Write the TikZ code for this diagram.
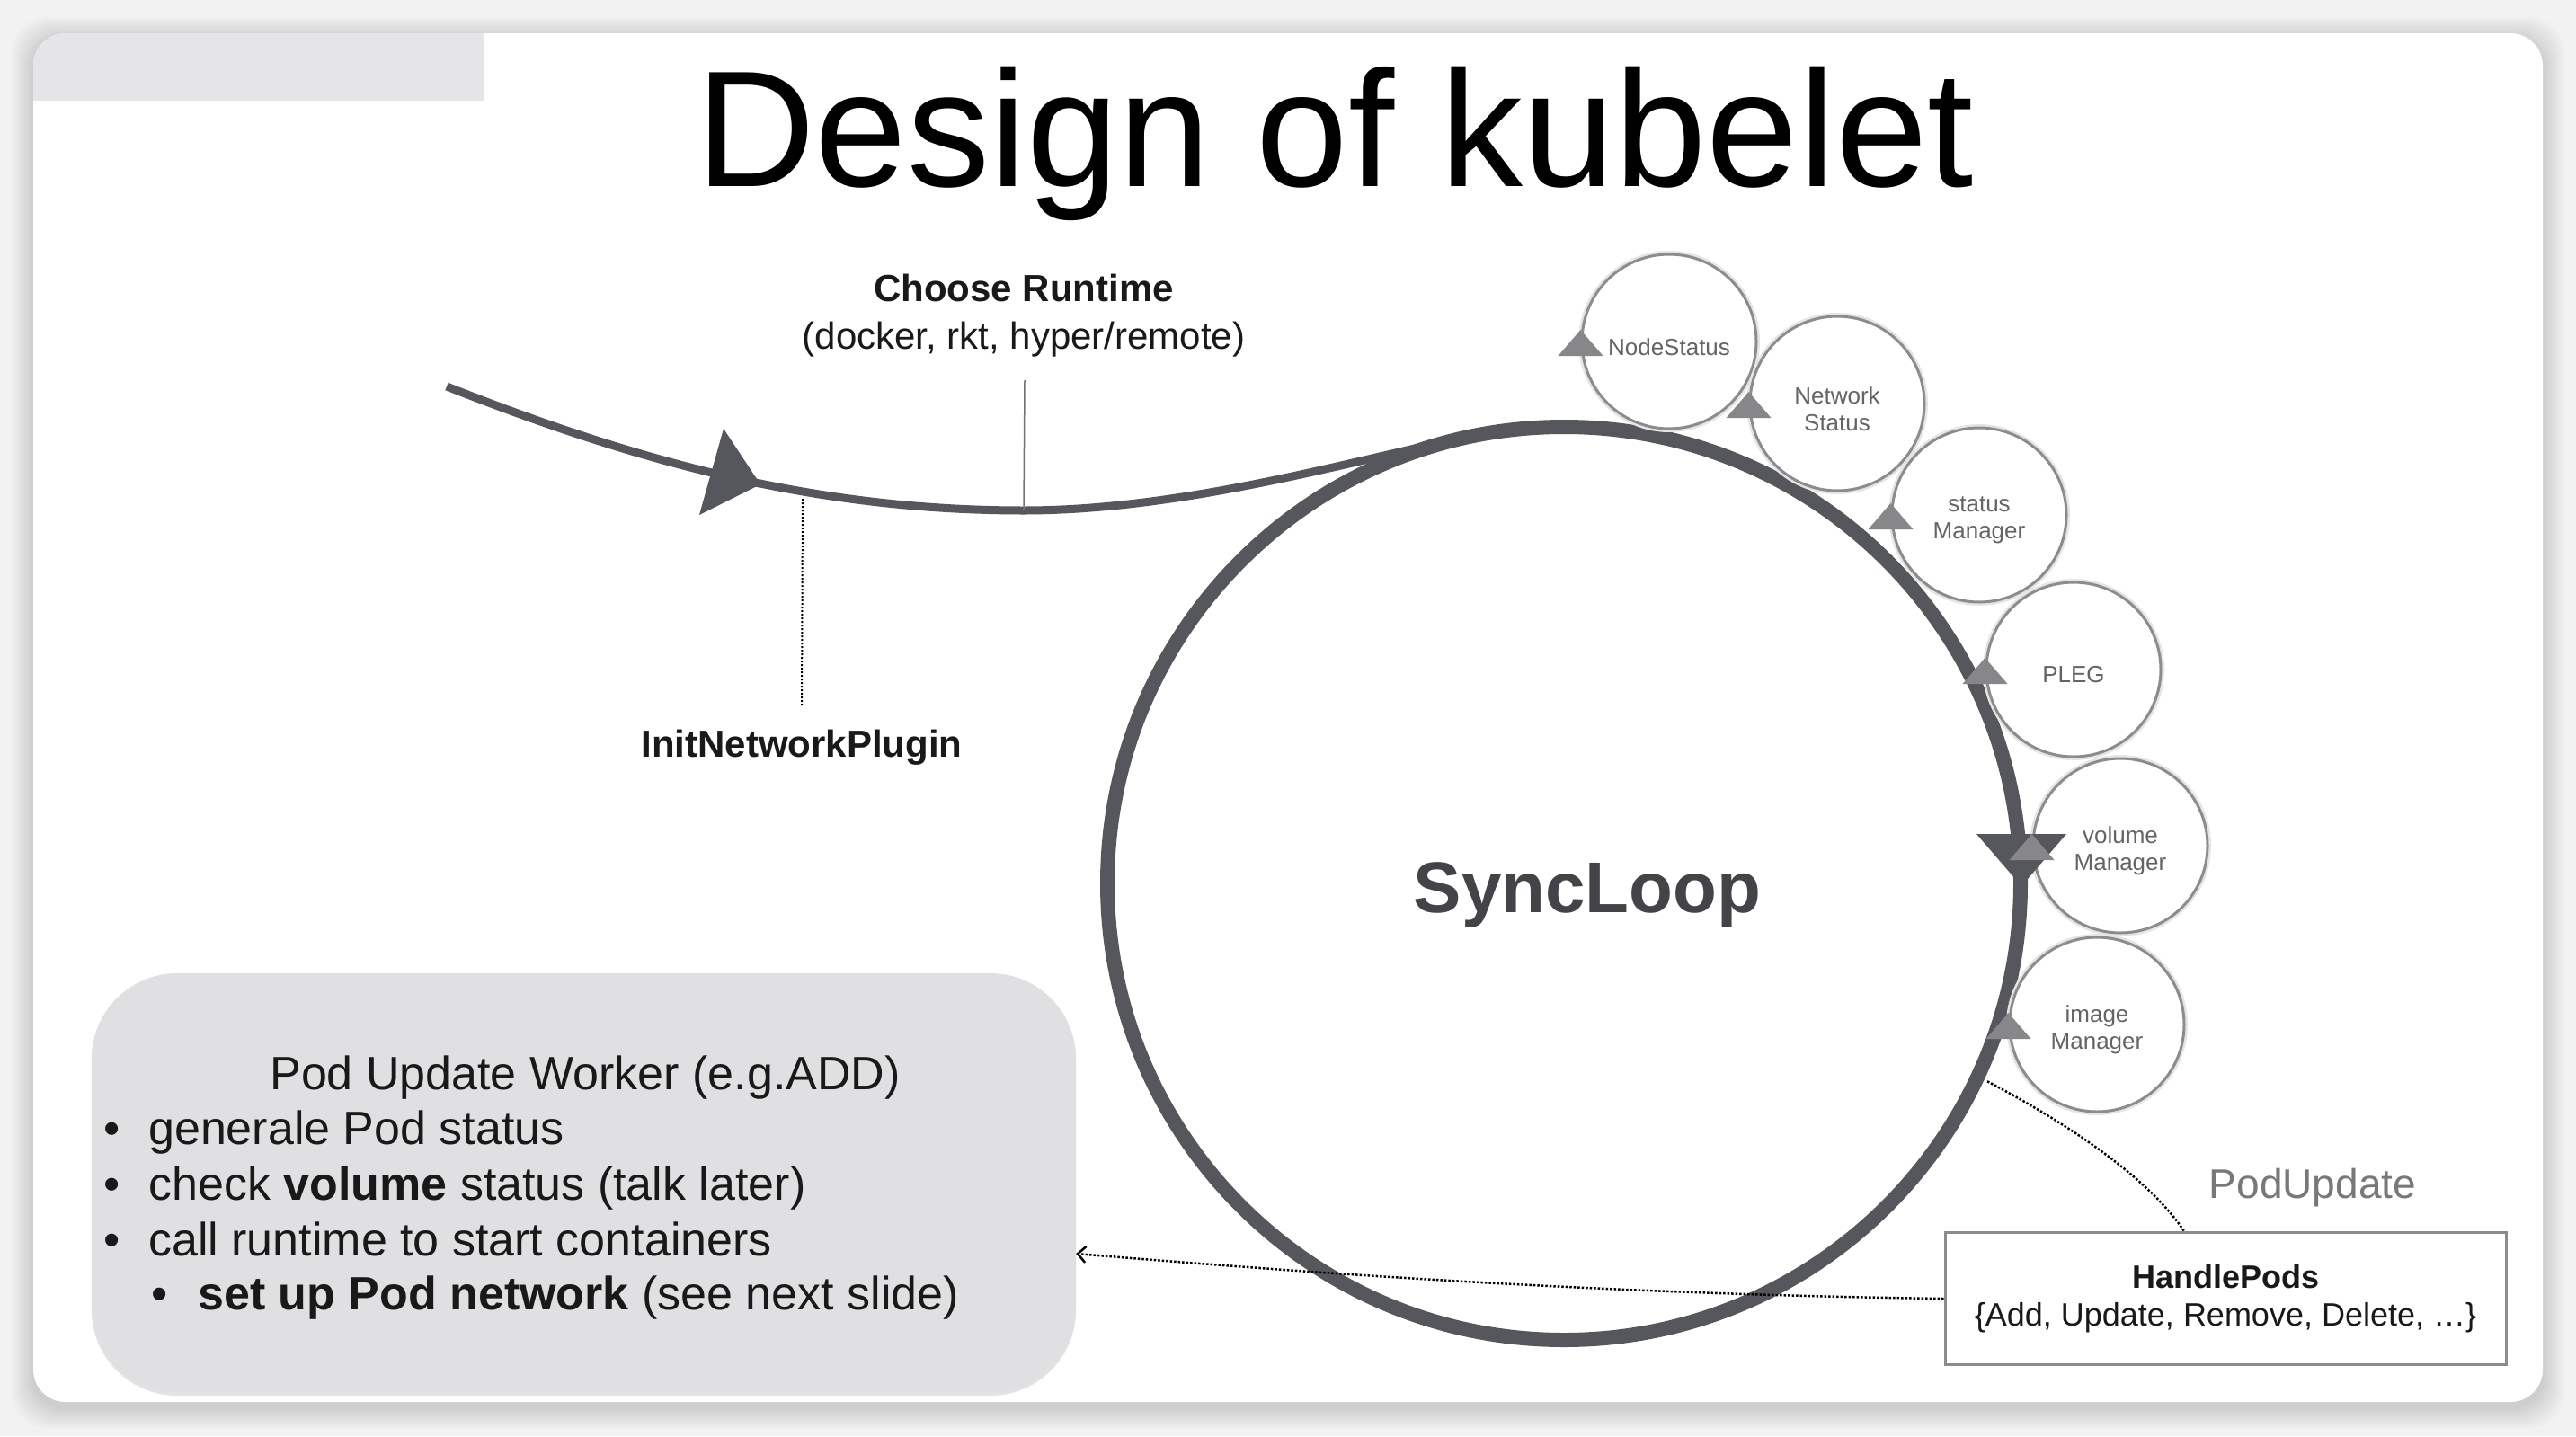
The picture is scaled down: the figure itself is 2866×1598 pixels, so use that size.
\documentclass[tikz,border=0pt]{standalone}
\usepackage{fontspec}
\setmainfont{Liberation Sans}
\usetikzlibrary{calc,shadows,arrows.meta}
\definecolor{ring}{RGB}{86,87,92}
\definecolor{mgrline}{RGB}{140,140,142}
\definecolor{trig}{RGB}{135,135,138}
\definecolor{boxfill}{RGB}{224,224,226}
\definecolor{pagebg}{RGB}{242,242,242}
\definecolor{tabgray}{RGB}{229,229,231}
\definecolor{txt}{RGB}{25,25,25}
\definecolor{lbl}{RGB}{100,100,102}
\definecolor{lbltwo}{RGB}{120,120,122}
\definecolor{synctxt}{RGB}{68,68,72}
\newcommand\grtri[1]{\fill[trig] ($(#1)+(0,-13)$) -- ($(#1)+(25,16)$) -- ($(#1)+(-25,16)$) -- cycle;}
\begin{document}
\begin{tikzpicture}[x=1pt,y=-1pt,
  mgr/.style={circle, draw=mgrline, line width=3pt, fill=white, minimum size=194pt, inner sep=0pt, preaction={draw=black!10, line width=8pt}},
  mgrtext/.style={inner sep=0pt, align=center, text=lbl, font=\fontsize{26}{30}\selectfont},
  lbltext/.style={inner sep=0pt, anchor=base, text=txt},
  linetext/.style={inner sep=0pt, anchor=base west, text=txt, font=\fontsize{52}{60}\selectfont},
  flowline/.style={draw=ring, line width=9pt},
  dotline/.style={draw=black, line width=2.5pt, dash pattern=on 2.5pt off 2pt},
]
\useasboundingbox (0,0) rectangle (2866,1598);
\fill[pagebg] (0,0) rectangle (2866,1598);
\foreach \d in {2,4,...,24} {\fill[black,opacity=0.012,rounded corners=40pt] ({37-\d},{37-\d+6}) rectangle ({2829+\d},{1560+\d+6});}
\fill[white, rounded corners=36pt] (37,37) rectangle (2829,1560);
\begin{scope}
\clip[rounded corners=36pt] (37,37) rectangle (2829,1560);
\fill[tabgray] (37,37) rectangle (539,112);
\end{scope}

\node[font=\fontsize{184}{200}\selectfont, anchor=base, inner sep=0pt, text=black] (title) at (1485,207) {Design of kubelet};

% SyncLoop ring
\node[circle, draw=ring, line width=16pt, minimum size=1016pt, inner sep=0pt, outer sep=0pt] (sync) at (1740,983) {};
\node[font=\bfseries\fontsize{80}{90}\selectfont, text=synctxt, anchor=base, inner sep=0pt] (synclbl) at (1766,1015) {SyncLoop};

% incoming flow
\coordinate (cstart) at (497,430);
\coordinate (cmin) at (1139,568);
\draw[flowline] (cstart) .. controls (700,510) and (900,568) .. (cmin) .. controls (1330,568) and (1532,504) .. (sync.100);
\fill[ring] (846,539) -- (805,477) -- (778,573) -- cycle;

\node[lbltext, font=\bfseries\fontsize{42}{48}\selectfont] (cr) at (1139,335) {Choose Runtime};
\node[lbltext, font=\fontsize{42}{48}\selectfont] (rt) at (1139,388) {(docker, rkt, hyper/remote)};
\coordinate (rtfoot) at (1140,423);
\draw[black!55, line width=1.5pt] (cmin) -- (rtfoot);

\node[lbltext, font=\bfseries\fontsize{42}{48}\selectfont] (inp) at (892,842) {InitNetworkPlugin};
\coordinate (initfoot) at (893,555);
\draw[draw=black, line width=2pt, dash pattern=on 2pt off 2pt] (initfoot) -- ([yshift=25pt]inp.north);

% managers
\node[mgr] (ns) at (1857,380) {};
\node[mgr] (nws) at (2044,449) {};
\node[mgr] (sm) at (2202,573) {};
\node[mgr] (pleg) at (2307,745) {};
\node[mgr] (vm) at (2359,941) {};
\node[mgr] (im) at (2333,1140) {};
\node[mgrtext] (nst) at ($(ns)+(0,6)$) {NodeStatus};
\node[mgrtext] (nwst) at ($(nws)+(0,6)$) {Network\\Status};
\node[mgrtext] (smt) at ($(sm)+(0,6)$) {status\\Manager};
\node[mgrtext] (plegt) at ($(pleg)+(0,6)$) {PLEG};
\node[mgrtext] (vmt) at ($(vm)+(0,6)$) {volume\\Manager};
\node[mgrtext] (imt) at ($(im)+(0,6)$) {image\\Manager};

\fill[ring] ($(sync.east)+(-49,-55)$) -- ($(sync.east)+(51,-55)$) -- ($(sync.east)+(1,3)$) -- cycle;
\grtri{ns.west}
\grtri{nws.west}
\grtri{sm.west}
\grtri{pleg.west}
\grtri{vm.west}
\grtri{im.west}

% HandlePods
\node[lbltext, font=\fontsize{46}{52}\selectfont, text=lbltwo] (pu) at (2573,1333) {PodUpdate};
\node[draw=mgrline, line width=3pt, fill=white, minimum width=624pt, minimum height=147pt, inner sep=0pt, align=center, text=txt, font=\fontsize{36}{42}\selectfont] (hp) at (2476,1445) {\textbf{HandlePods}\\\{Add, Update, Remove, Delete, …\}};
\draw[dotline, shorten <=12pt] (sync.-25) .. controls (2300,1250) and (2390,1310) .. ([xshift=-46pt]hp.north);

% Pod Update Worker
\node[fill=boxfill, rounded corners=95pt, minimum width=1095pt, minimum height=466pt, drop shadow={opacity=0.22, shadow xshift=0pt, shadow yshift=-4pt}] (pw) at (649.5,1316) {};
\draw[dotline, -{Straight Barb[length=9pt,width=18pt,line width=2.5pt]}] (hp.west) .. controls (1800,1440) and (1500,1420) .. ([yshift=-79pt]pw.east);

\node[lbltext, font=\fontsize{52}{60}\selectfont] (pwt) at (651,1212) {Pod Update Worker (e.g.ADD)};
\node[linetext] (b1) at (115,1273) {•};
\node[linetext] (t1) at (165,1273) {generale Pod status};
\node[linetext] (b2) at (115,1335) {•};
\node[linetext] (t2) at (165,1335) {check \textbf{volume} status (talk later)};
\node[linetext] (b3) at (115,1397) {•};
\node[linetext] (t3) at (165,1397) {call runtime to start containers};
\node[linetext] (b4) at (168,1457) {•};
\node[linetext] (t4) at (220,1457) {\textbf{set up Pod network} (see next slide)};
\end{tikzpicture}
\end{document}
